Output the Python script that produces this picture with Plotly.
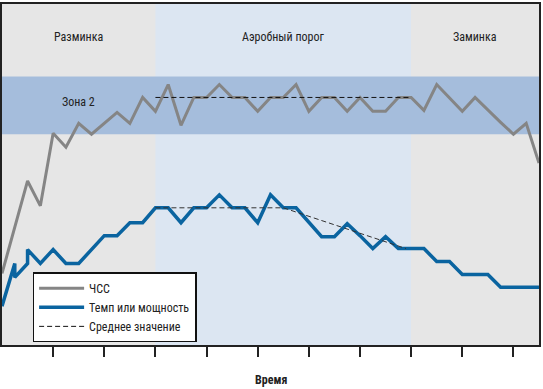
import plotly.graph_objects as go

# Data (x in quarter-tick time steps, y in relative units)
hr_x = list(range(43))
hr_y = [72, 118, 165, 140, 213, 199, 223, 212, 223, 234, 223, 249, 235, 262, 221,
        249, 249, 262, 249, 249, 235, 249, 249, 262, 235, 249, 249, 235, 249, 235,
        235, 249, 249, 236, 262, 249, 235, 249, 236, 224, 212, 223, 183]

pace_x = [0, 1, 1, 2, 2, 3, 4, 5, 6, 7, 8, 9, 10, 11, 12, 13, 14, 15, 16, 17, 18,
          19, 20, 21, 22, 23, 24, 25, 26, 27, 28, 29, 30, 31, 32, 33, 34, 35, 36,
          37, 38, 39, 40, 41, 42]
pace_y = [39, 82, 68, 82, 96, 82, 96, 82, 82, 96, 110, 110, 123, 123, 138, 138, 123,
          138, 138, 151, 138, 138, 123, 151, 138, 138, 124, 109, 109, 122, 110, 97,
          109, 97, 97, 97, 84, 84, 71, 71, 71, 58, 58, 58, 58]

hr_avg_x = [12, 32]
hr_avg_y = [249, 249]
pace_avg_x = [12, 22, 31.6]
pace_avg_y = [138, 138, 97]

phases = ["Разминка", "Аэробный порог", "Заминка"]
phase_bounds = [(0, 12), (12, 32), (32, 42)]
phase_colors = ["#e6e6e6", "#dce6f2", "#e6e6e6"]
zone_label = "Зона 2"
zone_range = (212, 270)
tick_vals = [4, 8, 12, 16, 20, 24, 28, 32, 36, 40]
x_title = "Время"

FONT = "Liberation Sans Narrow, Arial Narrow, Roboto Condensed, sans-serif"

fig = go.Figure()

shapes = []
for (x0, x1), c in zip(phase_bounds, phase_colors):
    shapes.append(dict(type="rect", xref="x", yref="paper", x0=x0, x1=x1, y0=0, y1=1,
                       fillcolor=c, line=dict(width=0), layer="below"))
shapes.append(dict(type="rect", xref="x", yref="y", x0=0, x1=42,
                   y0=zone_range[0], y1=zone_range[1],
                   fillcolor="#a5bddc", line=dict(width=0), layer="below"))
fig.update_layout(shapes=shapes)

fig.add_trace(go.Scatter(x=hr_x, y=hr_y, mode="lines", name="ЧСС",
                         line=dict(color="#858585", width=3)))
fig.add_trace(go.Scatter(x=pace_x, y=pace_y, mode="lines", name="Темп или мощность",
                         line=dict(color="#0a64a0", width=3.5)))
fig.add_trace(go.Scatter(x=hr_avg_x, y=hr_avg_y, mode="lines", name="Среднее значение",
                         line=dict(color="#111111", width=1, dash="5px,3px")))
fig.add_trace(go.Scatter(x=pace_avg_x, y=pace_avg_y, mode="lines", showlegend=False,
                         line=dict(color="#333333", width=1, dash="5px,3px")))

annotations = []
for (x0, x1), name in zip(phase_bounds, phases):
    annotations.append(dict(x=(x0 + x1) / 2, y=310, xref="x", yref="y", text=name,
                            showarrow=False, font=dict(size=12, color="#222222", family=FONT)))
annotations.append(dict(x=6, y=244, xref="x", yref="y", text=zone_label, showarrow=False,
                        font=dict(size=12, color="#222222", family=FONT)))
annotations.append(dict(x=0.5, y=-0.102, xref="paper", yref="paper", text="<b>" + x_title + "</b>",
                        showarrow=False, yanchor="middle",
                        font=dict(size=12, color="#222222", family=FONT)))

fig.update_layout(
    annotations=annotations,
    width=543, height=389,
    margin=dict(l=2, r=2, t=2, b=44),
    paper_bgcolor="white", plot_bgcolor="#e6e6e6",
    font=dict(family=FONT, size=12, color="#222222"),
    xaxis=dict(range=[0, 42], tickvals=tick_vals, ticks="outside", ticklen=10,
               tickwidth=1.5, tickcolor="#222222", showticklabels=False, showgrid=False,
               zeroline=False, showline=True, linecolor="#222222", linewidth=2, mirror=True),
    yaxis=dict(range=[0, 343], showticklabels=False, showgrid=False, zeroline=False,
               ticks="", showline=True, linecolor="#222222", linewidth=2, mirror=True),
    legend=dict(x=0.057, y=0.213, xanchor="left", yanchor="top", bgcolor="white",
                bordercolor="#111111", borderwidth=1.5,
                font=dict(size=12, family=FONT, color="#222222"),
                tracegroupgap=0, itemwidth=45),
    showlegend=True,
)

fig.write_html("out.html", config={"displayModeBar": False},
               post_script="document.body.style.margin='0';document.body.style.overflow='hidden';")
